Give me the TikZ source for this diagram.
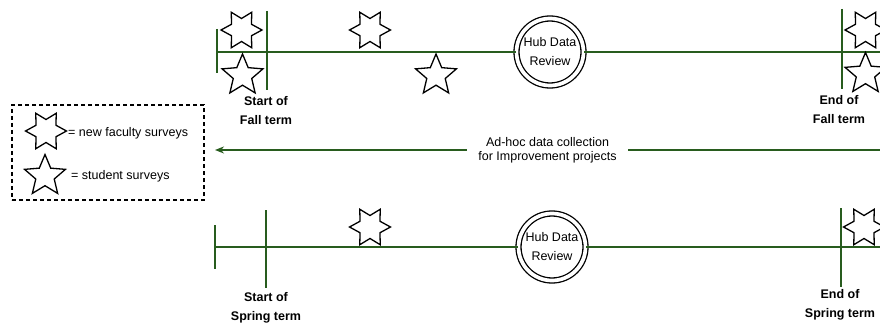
\documentclass[tikz,border=0pt]{standalone}
\usepackage{fontspec}
\setmainfont{Liberation Sans}
\usetikzlibrary{arrows.meta}
\definecolor{termgreen}{RGB}{40,92,30}
\begin{document}
\begin{tikzpicture}[x=1pt,y=-1pt,
  tl/.style={draw=termgreen,line width=1.5pt},
  starline/.style={draw=black,line width=1.3pt,fill=white,line join=miter},
  facstar/.pic={\path[starline] (0:20.5pt) -- (30:11.5pt) -- (60:20.5pt) -- (90:11.5pt)
     -- (120:20.5pt) -- (150:11.5pt) -- (180:20.5pt) -- (210:11.5pt) -- (240:20.5pt)
     -- (270:11.5pt) -- (300:20.5pt) -- (330:11.5pt) -- cycle;},
  stustar/.pic={\path[starline] (90:21.5pt) -- (126:9.7pt) -- (162:21.5pt) -- (198:9.7pt)
     -- (234:21.5pt) -- (270:9.7pt) -- (306:21.5pt) -- (342:9.7pt) -- (18:21.5pt)
     -- (54:9.7pt) -- cycle;},
  txt/.style={font=\fontsize{12.5}{14}\selectfont,inner sep=0pt},
  lbl/.style={font=\fontsize{12.5}{19}\selectfont\bfseries,align=center,inner sep=0pt},
  hub/.style={circle,draw=black,line width=1.3pt,double=white,double distance=3.7pt,
     fill=white,minimum size=67pt,inner sep=0pt,align=center,
     font=\fontsize{12.5}{19}\selectfont},
]
\useasboundingbox[fill=white] (0,0) rectangle (880,323);

% ---------- Fall term timeline ----------
\coordinate (fallL) at (217,52);
\coordinate (fallR) at (880,52);
\node[hub] (hub1) at (550,52) {Hub Data\\Review};
\draw[tl] (fallL) -- (hub1);
\draw[tl] (hub1) -- (fallR);
\draw[tl] (217,29) -- (217,73);
\draw[tl] (267,11) -- (267,90);
\draw[tl] (842,9) -- (842,89);
\pic (f1) at (241.5,30) {facstar};
\pic (s1) at (242.5,75.5) {stustar};
\pic (f2) at (370,30) {facstar};
\pic (s2) at (436,75.5) {stustar};
\pic (f3) at (865.5,30) {facstar};
\pic (s3) at (865.5,74) {stustar};
\node[lbl] (fallstart) at (266,111) {Start of\\Fall term};
\node[lbl] (fallend) at (839,109.5) {End of\\Fall term};

% ---------- Ad-hoc collection arrow ----------
\node[draw,dash pattern=on 4pt off 3pt,line width=1.3pt,minimum width=192pt,
      minimum height=95pt,inner sep=0pt] (legend) at (108,152.5) {};
\coordinate (adR) at (880,150);
\coordinate (adTip) at (215,150);
\draw[tl,-{Stealth[length=9pt,width=7pt]}] (adR) -- node[fill=white,inner xsep=11pt,
  inner ysep=1pt,align=center,font=\fontsize{12.5}{14}\selectfont] (adhoc)
  {Ad-hoc data collection\\for Improvement projects} (adTip);

% ---------- Legend ----------
\pic (lf) at (46,131) {facstar};
\pic (ls) at (45,176) {stustar};
\node[txt,anchor=west] (lft) at (68,133) {= new faculty surveys};
\node[txt,anchor=west] (lst) at (71,176) {= student surveys};

% ---------- Spring term timeline ----------
\coordinate (sprL) at (215,247);
\coordinate (sprR) at (880,247);
\node[hub] (hub2) at (552,247) {Hub Data\\Review};
\draw[tl] (sprL) -- (hub2);
\draw[tl] (hub2) -- (sprR);
\draw[tl] (215,225) -- (215,269);
\draw[tl] (266,210) -- (266,288);
\draw[tl] (841,208) -- (841,287);
\pic (f4) at (370,227) {facstar};
\pic (f5) at (864,227) {facstar};
\node[lbl] (sprstart) at (266,308) {Start of\\Spring term};
\node[lbl] (sprend) at (840,305) {End of\\Spring term};
\end{tikzpicture}
\end{document}
